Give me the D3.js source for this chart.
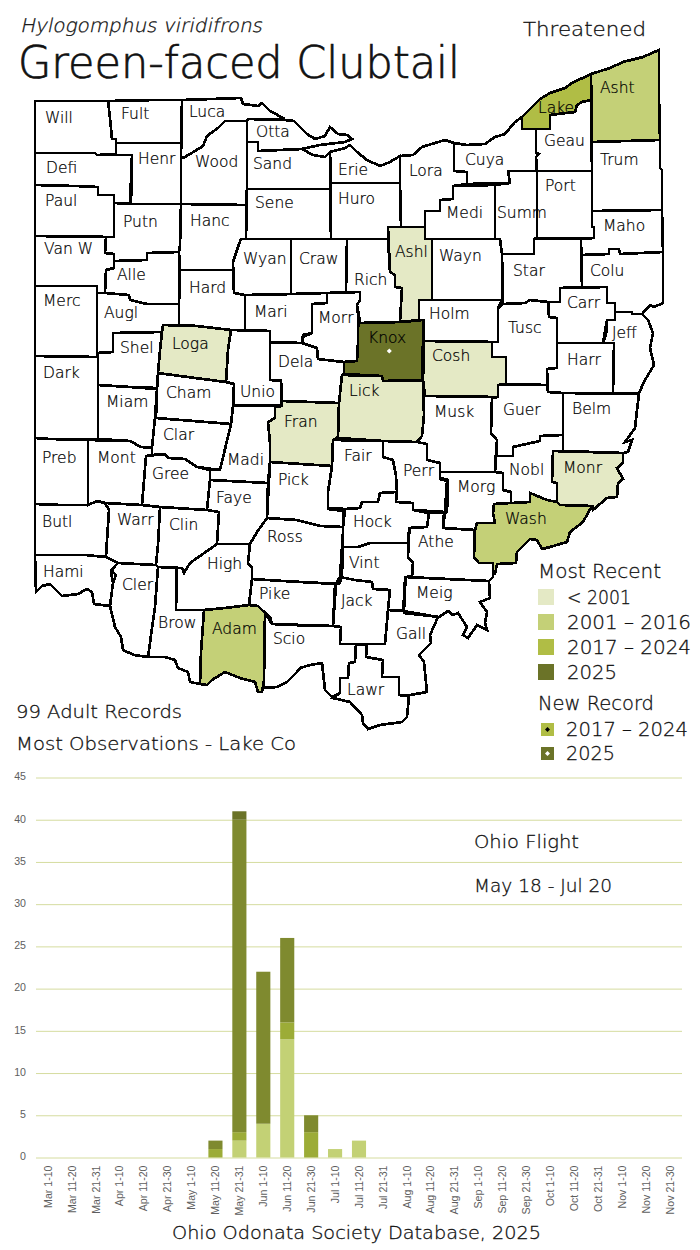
<!DOCTYPE html>
<html>
<head>
<meta charset="utf-8">
<script src="https://cdnjs.cloudflare.com/ajax/libs/d3/7.8.5/d3.min.js"></script>
<style>
  body { margin: 0; background: #fff; }
  text { font-family: "DejaVu Sans", sans-serif; }
  .countyLine { fill: none; stroke: #000; stroke-width: 2.7; stroke-linejoin: miter; shape-rendering: crispEdges; }
  .countyFill { stroke: none; shape-rendering: crispEdges; }
  /* opacity here keeps the thin text from getting coloured fringes */
  .countyName { font-size: 15.5px; font-weight: 200; fill: #000; stroke: #000; stroke-width: 0.22; opacity: 0.999; }
  .head { font-weight: 200; fill: #111; stroke: #111; stroke-width: 0.3; opacity: 0.999; }
  .axis text { font-family: "Liberation Sans", Arial, sans-serif; font-size: 10.6px; fill: #5e5e5e; }
  .axis path { display: none; }
  .axis line { stroke: #d5dc9f; }
</style>
</head>
<body>
<div id="chart"></div>
<script>
//most recent record for the counties that have one, everything else stays white
var before2001 = ["Ashl", "Loga", "Cosh", "Lick", "Fran", "Monr"];
var from2001to2016 = ["Asht", "Wash", "Adam"];
var from2017to2024 = ["Lake"];
var in2025 = ["Knox"];
var newRecords2025 = ["Knox"];

var periodNames = ["< 2001", "2001 – 2016", "2017 – 2024", "2025"];
var periodColors = ["#e4e9c5", "#c4d077", "#b0bd45", "#6b7328"];
var newRecordNames = ["2017 – 2024", "2025"];

//flight chart, one value per ten day period
var flightPeriods = ["Mar 1-10", "Mar 11-20", "Mar 21-31", "Apr 1-10", "Apr 11-20", "Apr 21-30", "May 1-10", "May 11-20", "May 21-31",
  "Jun 1-10", "Jun 11-20", "Jun 21-30", "Jul 1-10", "Jul 11-20", "Jul 21-31", "Aug 1-10", "Aug 11-20", "Aug 21-31",
  "Sep 1-10", "Sep 11-20", "Sep 21-30", "Oct 1-10", "Oct 11-20", "Oct 21-31", "Nov 1-10", "Nov 11-20", "Nov 21-30"];
var flightLight = [0, 0, 0, 0, 0, 0, 0, 0, 2, 4, 14, 0, 1, 2, 0, 0, 0, 0, 0, 0, 0, 0, 0, 0, 0, 0, 0];
var flightMid = [0, 0, 0, 0, 0, 0, 0, 1, 1, 0, 2, 3, 0, 0, 0, 0, 0, 0, 0, 0, 0, 0, 0, 0, 0, 0, 0];
var flightDark = [0, 0, 0, 0, 0, 0, 0, 1, 37, 18, 10, 2, 0, 0, 0, 0, 0, 0, 0, 0, 0, 0, 0, 0, 0, 0, 0];
var flightNewest = [0, 0, 0, 0, 0, 0, 0, 0, 1, 0, 0, 0, 0, 0, 0, 0, 0, 0, 0, 0, 0, 0, 0, 0, 0, 0, 0];
var flightColors = ["#c3d175", "#9cac37", "#7f8a2f", "#6b7328"];

//county outlines
var countyOutlines = {
  "Will": [[35,101],[108,101],[110,118],[112,139],[116,139],[116,154],[97,155],[95,153],[35,153]],
  "Fult": [[108,101],[157,100],[182,100],[181,143],[116,143],[116,139],[112,139],[110,118]],
  "Defi": [[35,153],[95,153],[97,155],[132,155],[131,180],[130,203],[114,203],[114,195],[98,195],[98,187],[75,186],[35,185]],
  "Henr": [[116,143],[181,143],[181,204],[131,204],[132,155],[116,155]],
  "Paul": [[35,185],[75,186],[98,187],[98,195],[114,195],[114,237],[35,236]],
  "Putn": [[114,203],[131,204],[181,204],[180,245],[179,252],[147,253],[147,260],[114,261],[114,254],[105,253],[106,237],[114,237]],
  "Van W": [[35,236],[106,237],[105,253],[114,254],[114,268],[106,270],[105,293],[97,293],[97,286],[35,286]],
  "Alle": [[114,261],[147,260],[147,253],[179,252],[179,304],[147,304],[130,300],[129,295],[105,293],[106,270],[114,268]],
  "Luca": [[182,100],[241,98],[243,104],[258,106],[262,103],[270,111],[285,119],[248,119],[247,121],[225,121],[218,128],[207,136],[203,146],[195,151],[185,157],[181,158]],
  "Wood": [[181,158],[185,157],[195,151],[203,146],[207,136],[218,128],[225,121],[247,121],[247,188],[246,205],[181,204]],
  "Otta": [[247,121],[248,119],[285,120],[294,121],[300,127],[307,134],[315,139],[325,136],[330,127],[338,134],[347,135],[352,139],[345,142],[320,145],[302,149],[258,151],[258,142],[247,142]],
  "Sand": [[247,142],[258,142],[258,151],[302,149],[313,155],[325,157],[330,152],[330,189],[247,189]],
  "Sene": [[247,189],[330,189],[331,239],[246,239]],
  "Hanc": [[181,204],[246,205],[246,239],[241,239],[238,247],[233,262],[233,270],[180,270],[179,252],[180,245]],
  "Wyan": [[241,239],[291,239],[291,294],[245,295],[234,293],[233,262],[238,247]],
  "Craw": [[291,239],[347,239],[346,292],[327,293],[291,294]],
  "Hard": [[180,270],[233,270],[234,293],[245,295],[245,330],[231,330],[197,326],[179,325],[179,304]],
  "Augl": [[97,293],[105,293],[129,295],[130,300],[147,304],[179,304],[179,325],[163,325],[162,332],[113,333],[113,352],[97,353]],
  "Merc": [[35,286],[97,286],[97,357],[35,356]],
  "Dark": [[35,356],[98,357],[98,439],[50,439],[35,438]],
  "Shel": [[98,353],[113,352],[113,333],[162,332],[160,350],[158,373],[157,388],[130,387],[98,385]],
  "Loga": [[162,332],[163,325],[197,326],[231,330],[228,350],[226,382],[180,376],[158,373],[160,350]],
  "Miam": [[98,385],[130,387],[157,389],[155,418],[152,448],[141,447],[130,441],[98,439]],
  "Cham": [[158,373],[180,376],[226,382],[234,384],[233,406],[231,424],[156,418],[157,389]],
  "Unio": [[231,330],[270,331],[270,380],[281,381],[281,405],[234,405],[234,384],[226,382],[228,350]],
  "Mari": [[245,295],[263,295],[291,294],[327,293],[327,303],[312,304],[312,333],[303,337],[302,343],[279,343],[270,342],[270,331],[245,330]],
  "Morr": [[327,293],[360,292],[360,300],[357,305],[360,322],[358,327],[358,345],[357,361],[343,362],[318,359],[317,348],[302,343],[303,335],[312,333],[312,304],[327,303]],
  "Rich": [[347,239],[388,239],[390,272],[395,275],[395,287],[402,288],[400,322],[359,323],[357,305],[360,300],[360,292],[346,292]],
  "Ashl": [[388,227],[425,227],[425,239],[432,239],[432,300],[419,300],[419,320],[400,322],[402,288],[395,287],[395,275],[390,272]],
  "Huro": [[331,183],[400,183],[401,227],[388,227],[388,239],[331,239]],
  "Erie": [[330,152],[345,148],[350,145],[357,152],[367,160],[380,166],[390,162],[400,156],[400,183],[331,183]],
  "Lora": [[400,156],[413,155],[422,147],[435,143],[445,140],[454,143],[454,171],[467,172],[467,184],[453,186],[453,199],[440,200],[440,211],[425,211],[425,227],[401,227],[400,183]],
  "Cuya": [[454,143],[467,145],[485,144],[495,137],[505,134],[515,122],[522,117],[522,129],[536,129],[536,153],[539,154],[536,157],[536,171],[508,171],[510,183],[467,184],[467,172],[454,171]],
  "Lake": [[522,117],[540,99],[550,93],[565,88],[572,83],[591,74],[591,100],[582,102],[577,105],[575,112],[550,115],[550,129],[522,129]],
  "Geau": [[536,129],[550,129],[550,115],[575,112],[577,105],[582,102],[591,100],[592,171],[537,171],[536,157],[539,154],[536,153]],
  "Asht": [[591,74],[610,68],[623,62],[643,57],[659,50],[659,97],[660,140],[592,142]],
  "Trum": [[592,142],[660,140],[660,168],[662,170],[662,210],[592,211]],
  "Port": [[537,171],[592,171],[592,227],[594,227],[594,238],[537,238]],
  "Maho": [[592,211],[662,210],[663,252],[620,254],[619,249],[609,249],[609,254],[581,255],[581,239],[594,238],[594,227],[592,227]],
  "Summ": [[508,171],[537,171],[537,238],[534,239],[534,254],[502,254],[500,239],[495,239],[495,185],[510,183]],
  "Medi": [[453,186],[495,185],[495,239],[425,239],[425,211],[440,211],[440,200],[453,199]],
  "Wayn": [[432,239],[500,239],[502,254],[502,300],[432,300]],
  "Star": [[502,254],[534,254],[534,239],[581,239],[582,287],[560,288],[560,302],[548,302],[530,300],[525,303],[503,304]],
  "Colu": [[581,255],[609,254],[609,249],[619,249],[620,254],[663,252],[663,303],[654,307],[650,305],[642,314],[632,314],[632,312],[615,312],[615,303],[607,303],[607,287],[582,287]],
  "Carr": [[560,288],[607,287],[607,303],[615,303],[615,320],[607,320],[606,335],[603,343],[557,343],[557,318],[549,317],[549,302],[560,302]],
  "Jeff": [[615,312],[632,312],[632,314],[642,314],[648,320],[653,333],[650,348],[654,365],[645,380],[639,393],[613,393],[614,343],[603,343],[607,320],[615,320]],
  "Harr": [[557,343],[614,343],[613,393],[563,393],[548,392],[547,369],[557,368]],
  "Tusc": [[498,308],[503,304],[525,303],[530,300],[548,302],[549,317],[557,318],[557,368],[547,369],[547,385],[506,384],[506,357],[492,357],[492,342],[498,342]],
  "Holm": [[419,300],[502,300],[498,308],[498,342],[424,341],[424,320],[419,320]],
  "Knox": [[358,323],[402,322],[423,320],[423,341],[422,380],[383,381],[382,376],[344,374],[344,362],[357,361],[358,342]],
  "Cosh": [[424,341],[492,342],[492,357],[506,357],[506,384],[498,385],[498,397],[425,396],[423,380]],
  "Lick": [[342,375],[382,376],[383,381],[423,381],[424,415],[422,436],[417,442],[383,441],[338,438],[339,403]],
  "Fran": [[282,401],[339,403],[338,437],[333,440],[332,466],[270,462],[270,443],[268,422],[275,418],[275,407],[282,406]],
  "Dela": [[270,342],[302,343],[317,348],[318,359],[344,362],[344,374],[342,375],[339,403],[282,401],[281,380],[270,380]],
  "Madi": [[233,406],[275,406],[275,418],[268,422],[270,443],[270,462],[268,483],[210,480],[210,470],[220,470],[231,424]],
  "Clar": [[156,418],[231,424],[220,470],[197,467],[185,459],[168,458],[165,454],[152,455],[152,448],[155,418]],
  "Gree": [[146,456],[165,454],[168,458],[185,459],[197,467],[210,470],[210,480],[207,510],[160,507],[142,505]],
  "Mont": [[88,440],[130,441],[141,447],[152,448],[152,455],[146,456],[142,505],[105,503],[97,501],[88,505]],
  "Preb": [[35,438],[50,439],[88,440],[88,505],[62,505],[35,504]],
  "Butl": [[35,504],[62,505],[88,505],[97,501],[105,503],[109,510],[107,540],[106,557],[85,555],[35,555]],
  "Warr": [[105,503],[142,505],[160,507],[158,545],[156,565],[118,563],[106,557],[107,540],[109,510]],
  "Clin": [[160,507],[207,510],[219,512],[217,544],[200,556],[190,563],[184,573],[182,568],[158,567],[156,565],[158,545]],
  "Faye": [[210,480],[268,483],[267,518],[257,532],[250,544],[217,544],[219,512],[207,510]],
  "Pick": [[270,462],[332,466],[328,492],[328,509],[343,511],[343,527],[320,526],[297,520],[267,518]],
  "Ross": [[267,518],[297,520],[320,526],[343,527],[342,577],[339,584],[283,581],[252,579],[252,568],[248,563],[250,544],[257,532]],
  "High": [[217,544],[250,544],[248,563],[252,568],[252,579],[249,605],[225,608],[204,610],[176,610],[177,568],[182,568],[184,573],[190,563],[200,556]],
  "Pike": [[252,579],[283,581],[336,584],[333,626],[315,626],[272,624],[270,617],[265,613],[258,606],[249,605]],
  "Adam": [[204,610],[225,608],[249,605],[258,606],[265,613],[264,680],[262,692],[258,692],[255,682],[240,678],[225,672],[212,680],[207,685],[200,684],[201,652]],
  "Scio": [[265,613],[272,624],[333,626],[341,627],[340,644],[356,644],[355,662],[349,663],[348,678],[340,678],[340,693],[332,697],[325,690],[322,663],[310,665],[300,668],[297,672],[287,682],[277,687],[263,688],[264,680]],
  "Brow": [[158,567],[176,568],[176,610],[204,610],[201,652],[200,684],[190,682],[188,672],[178,668],[175,660],[165,657],[148,657],[155,607]],
  "Cler": [[118,563],[156,565],[158,567],[155,607],[148,657],[134,655],[123,650],[121,637],[115,627],[110,606],[113,583],[111,572],[115,566]],
  "Hami": [[35,555],[85,555],[106,557],[118,563],[115,566],[111,570],[116,575],[113,583],[110,606],[94,604],[92,592],[87,589],[78,594],[62,596],[50,584],[42,586],[36,592]],
  "Fair": [[333,440],[383,441],[383,457],[393,460],[396,476],[397,492],[380,493],[378,502],[362,502],[360,508],[345,509],[328,508],[328,492],[332,466]],
  "Perr": [[383,441],[417,442],[427,444],[427,460],[440,463],[440,479],[447,481],[445,512],[413,510],[413,503],[396,502],[397,492],[396,476],[393,460],[383,457]],
  "Hock": [[345,509],[360,508],[362,502],[378,502],[380,493],[397,492],[396,502],[413,503],[413,510],[429,513],[427,527],[410,528],[408,543],[370,543],[358,547],[343,547],[343,527]],
  "Vint": [[342,547],[358,547],[370,543],[408,543],[408,558],[413,562],[412,577],[406,577],[403,610],[388,610],[390,590],[373,589],[372,582],[355,580],[340,577]],
  "Athe": [[409,528],[427,527],[429,513],[445,512],[443,528],[474,530],[474,557],[479,563],[493,563],[493,577],[489,581],[406,577],[412,576],[413,562],[408,558]],
  "Morg": [[440,472],[495,472],[503,473],[503,490],[511,492],[511,503],[494,504],[493,513],[495,523],[477,523],[475,530],[443,528],[444,513],[447,512],[448,480],[440,478]],
  "Musk": [[424,396],[498,397],[492,398],[491,433],[497,440],[495,472],[440,472],[440,463],[427,460],[427,444],[417,442],[422,436],[424,415]],
  "Guer": [[498,385],[547,385],[548,392],[563,393],[563,435],[540,436],[540,441],[513,447],[513,456],[497,456],[497,440],[491,433],[492,398],[498,397]],
  "Belm": [[563,393],[639,394],[637,410],[635,428],[630,435],[625,442],[632,440],[628,452],[623,453],[563,451]],
  "Nobl": [[495,456],[513,456],[513,447],[540,441],[540,436],[563,435],[563,451],[553,451],[552,482],[557,483],[557,502],[547,500],[530,493],[530,502],[511,503],[511,492],[503,490],[503,473],[495,472]],
  "Monr": [[553,451],[623,453],[623,463],[617,468],[623,479],[618,483],[617,497],[607,498],[593,510],[592,506],[560,505],[557,502],[557,483],[552,482]],
  "Wash": [[494,504],[511,503],[530,502],[530,493],[547,500],[557,502],[560,505],[592,506],[583,522],[570,532],[567,542],[550,547],[542,549],[537,540],[530,539],[517,552],[516,563],[497,564],[495,574],[493,574],[493,563],[479,563],[474,557],[475,530],[477,523],[495,523],[493,513]],
  "Meig": [[405,577],[489,581],[490,598],[480,602],[487,612],[485,623],[487,630],[477,625],[468,638],[463,635],[467,627],[458,613],[453,615],[448,611],[439,617],[404,613]],
  "Gall": [[388,610],[403,611],[438,617],[430,635],[431,643],[419,655],[424,662],[427,692],[410,695],[399,695],[399,677],[382,677],[383,660],[366,657],[367,644],[385,644]],
  "Lawr": [[356,645],[367,645],[366,657],[383,660],[382,677],[399,677],[399,695],[409,696],[407,717],[402,722],[380,725],[368,729],[363,723],[362,715],[350,702],[333,698],[340,693],[340,678],[348,678],[349,663],[355,662]],
  "Jack": [[340,577],[355,580],[372,582],[373,589],[390,590],[388,610],[385,644],[340,644],[341,627],[333,626],[335,585]]
};

var countyLabels = [["Will",45,123],["Fult",121,119],["Luca",189,117],["Otta",256,137],["Defi",46,173],["Henr",138,164],["Wood",195,167],["Sand",253,169],
  ["Erie",338,175],["Huro",338,204],["Lora",409,176],["Cuya",465,165],["Geau",544,146],["Asht",600,93],["Lake",538,113],["Trum",600,165],["Port",545,191],
  ["Paul",45,206],["Putn",123,227],["Hanc",190,226],["Sene",255,208],["Medi",446,218],["Summ",497,218],["Maho",603,231],["Wayn",439,261],["Ashl",395,257],
  ["Van W",44,254],["Alle",117,280],["Wyan",243,264],["Craw",299,264],["Star",513,276],["Colu",590,276],["Rich",354,285],["Hard",189,293],["Merc",43,306],
  ["Augl",104,318],["Mari",254,317],["Carr",567,308],["Morr",318,323],["Holm",429,319],["Tusc",508,333],["Jeff",612,338],["Loga",172,349],["Shel",120,353],
  ["Knox",368,343],["Dela",278,367],["Cosh",432,361],["Lick",349,396],["Unio",240,397],["Cham",166,398],["Miam",106,407],["Dark",43,378],["Fran",284,427],
  ["Harr",567,365],["Musk",434,417],["Guer",503,415],["Belm",572,414],["Clar",163,440],["Madi",227,465],["Preb",42,463],["Mont",97,463],["Gree",152,479],
  ["Fair",344,461],["Perr",403,476],["Pick",278,485],["Nobl",509,475],["Monr",563,473],["Morg",457,492],["Faye",216,503],["Butl",42,527],["Warr",117,525],
  ["Clin",169,530],["Wash",505,524],["Hock",353,527],["Ross",267,542],["Athe",418,547],["Hami",43,577],["High",207,569],["Vint",349,568],["Cler",122,590],
  ["Meig",416,598],["Pike",259,599],["Jack",341,606],["Brow",158,628],["Adam",212,634],["Scio",273,644],["Gall",396,639],["Lawr",347,695]];

var width = 700,
    height = 1250;

var svg = d3.select("#chart")
            .append("svg")
            .attr("width", width)
            .attr("height", height)
            .style("display", "block");

//fill lookup for the map
var countyFill = {};
[before2001, from2001to2016, from2017to2024, in2025].forEach(function (list, i) {
  list.forEach(function (name) { countyFill[name] = periodColors[i]; });
});

var mapPath = d3.geoPath(d3.geoIdentity());

var counties = Object.keys(countyOutlines).map(function (name) {
  var ring = countyOutlines[name].concat([countyOutlines[name][0]]);
  return { type: "Feature", properties: { name: name }, geometry: { type: "Polygon", coordinates: [ring] } };
});

//fills first so a neighbour can not paint over a border
svg.append("g").selectAll("path")
    .data(counties)
    .enter()
    .append("path")
    .attr("class", "countyFill")
    .attr("d", mapPath)
    .attr("fill", function (d) { return countyFill[d.properties.name] || "#fff"; });

svg.append("g").selectAll("path")
    .data(counties)
    .enter()
    .append("path")
    .attr("class", "countyLine")
    .attr("d", mapPath);

svg.append("g").selectAll("text")
    .data(countyLabels)
    .enter()
    .append("text")
    .attr("class", "countyName")
    .attr("x", function (d) { return d[1]; })
    .attr("y", function (d) { return d[2]; })
    .text(function (d) { return d[0]; });

var diamond = d3.symbol().type(d3.symbolDiamond2).size(16);

svg.append("g").selectAll("path")
    .data(newRecords2025)
    .enter()
    .append("path")
    .attr("d", diamond)
    .attr("fill", "#fff")
    .attr("transform", function (d) {
      return "translate(" + d3.polygonCentroid(countyOutlines[d]).join(",") + ")";
    });

//text around the map, x / baseline / width / size
function label(txt, x, y, w, size, leaning) {
  var t = svg.append("text")
      .attr("class", "head")
      .attr("x", x)
      .attr("y", y)
      .attr("font-size", size)
      .attr("textLength", w)
      .attr("lengthAdjust", "spacingAndGlyphs")
      .text(txt);
  //no light oblique is installed, so lean the upright one
  if (leaning) {
    t.attr("x", 0).attr("y", 0)
     .attr("transform", "translate(" + x + "," + y + ") skewX(-12)");
  }
  return t;
}

label("Hylogomphus viridifrons", 20, 32, 242, 19, true);
label("Green-faced Clubtail", 18, 78, 442, 44).style("stroke-width", 0.7);
label("Threatened", 523, 36, 123, 20);
label("99 Adult Records", 16, 718, 166, 18);
label("Most Observations - Lake Co", 16, 750, 280, 18);
label("Ohio Flight", 474, 848, 105, 18);
label("May 18 - Jul 20", 474, 892, 138, 18);
label("Ohio Odonata Society Database, 2025", 172, 1239, 369, 18);

//legend
label("Most Recent", 538, 578, 123, 19);
var legendY = d3.scalePoint().domain(periodNames).range([597, 672]);
var legendWidth = d3.scaleOrdinal().domain(periodNames).range([64, 124, 124, 50]);

var legend = svg.append("g").selectAll("g")
    .data(periodNames)
    .enter()
    .append("g")
    .attr("transform", function (d) { return "translate(538," + legendY(d) + ")"; });

legend.append("rect")
    .attr("y", -8)
    .attr("width", 16)
    .attr("height", 16)
    .attr("fill", function (d, i) { return periodColors[i]; });

legend.append("text")
    .attr("class", "head")
    .attr("x", 29)
    .attr("y", 7)
    .attr("font-size", 19)
    .attr("textLength", function (d) { return legendWidth(d); })
    .attr("lengthAdjust", "spacingAndGlyphs")
    .text(function (d) { return d; });

label("New Record", 538, 710, 116, 19);
var newY = d3.scalePoint().domain(newRecordNames).range([729.5, 753.5]);

var newLegend = svg.append("g").selectAll("g")
    .data(newRecordNames)
    .enter()
    .append("g")
    .attr("transform", function (d) { return "translate(541," + newY(d) + ")"; });

newLegend.append("rect")
    .attr("y", -6.5)
    .attr("width", 13)
    .attr("height", 13)
    .attr("fill", function (d, i) { return i == 0 ? periodColors[2] : periodColors[3]; });

newLegend.append("path")
    .attr("d", diamond)
    .attr("transform", "translate(6.5,0)")
    .attr("fill", function (d, i) { return i == 0 ? "#000" : "#fff"; });

newLegend.append("text")
    .attr("class", "head")
    .attr("x", 25)
    .attr("y", 6.5)
    .attr("font-size", 19)
    .attr("textLength", function (d, i) { return i == 0 ? 122 : 49; })
    .attr("lengthAdjust", "spacingAndGlyphs")
    .text(function (d) { return d; });

//flight chart
var x = d3.scaleBand().domain(flightPeriods).range([36, 682]).paddingInner(0.41).paddingOuter(0.205);
var y = d3.scaleLinear().domain([0, 45]).range([1157.5, 777.5]);

svg.append("g")
    .attr("class", "axis")
    .attr("transform", "translate(36,0)")
    .call(d3.axisLeft(y).tickValues(d3.range(0, 46, 5)).tickSize(-646).tickPadding(10))
    .selectAll("text")
    .attr("dy", "0.22em");

var rows = flightPeriods.map(function (p, i) {
  return { period: p, light: flightLight[i], mid: flightMid[i], dark: flightDark[i], newest: flightNewest[i] };
});
var stacked = d3.stack().keys(["light", "mid", "dark", "newest"])(rows);

svg.append("g").selectAll("g")
    .data(stacked)
    .enter()
    .append("g")
    .attr("fill", function (d, i) { return flightColors[i]; })
    .selectAll("rect")
    .data(function (d) { return d; })
    .enter()
    .append("rect")
    .attr("x", function (d) { return x(d.data.period); })
    .attr("y", function (d) { return y(d[1]); })
    .attr("width", x.bandwidth())
    .attr("height", function (d) { return y(d[0]) - y(d[1]); });

svg.append("g")
    .attr("class", "axis")
    .attr("transform", "translate(0,1157.5)")
    .call(d3.axisBottom(x).tickSize(0))
    .selectAll("text")
    .attr("text-anchor", "end")
    .attr("transform", "rotate(-90)")
    .attr("x", -8)
    .attr("y", 0)
    .attr("dy", "0.35em");
</script>
</body>
</html>
